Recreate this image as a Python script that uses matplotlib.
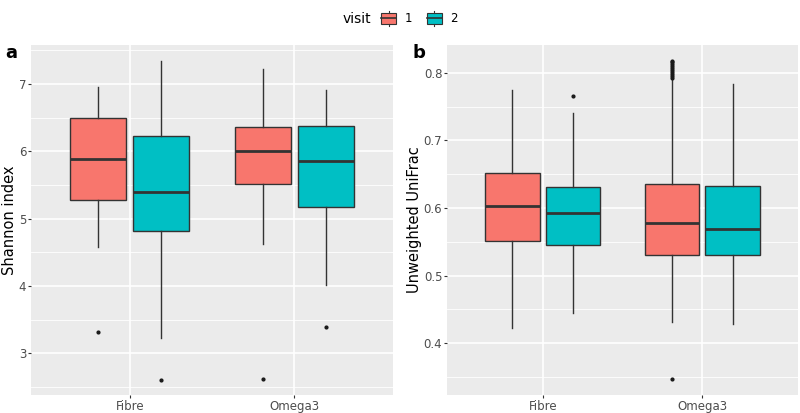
import numpy as np
import matplotlib
matplotlib.use('Agg')
import matplotlib.pyplot as plt
from matplotlib.legend_handler import HandlerBase
from matplotlib.patches import Rectangle
from matplotlib.lines import Line2D

# du lieu doc tu hinh
groups = ['Fibre', 'Omega3']
visits = ['1', '2']
colors = ['#F8766D', '#00BFC4']

# panel a: Shannon index  [whislo, q1, med, q3, whishi], outliers
shannon_stats = {
    ('Fibre', '1'): [4.58, 5.27, 5.88, 6.50, 6.96],
    ('Fibre', '2'): [3.22, 4.81, 5.40, 6.23, 7.34],
    ('Omega3', '1'): [4.62, 5.52, 6.00, 6.36, 7.23],
    ('Omega3', '2'): [4.01, 5.18, 5.85, 6.37, 6.91],
}
shannon_fliers = {
    ('Fibre', '1'): [3.31],
    ('Fibre', '2'): [2.61],
    ('Omega3', '1'): [2.62],
    ('Omega3', '2'): [3.39],
}

# panel b: Unweighted UniFrac
unifrac_stats = {
    ('Fibre', '1'): [0.423, 0.551, 0.603, 0.652, 0.775],
    ('Fibre', '2'): [0.445, 0.545, 0.592, 0.631, 0.740],
    ('Omega3', '1'): [0.431, 0.530, 0.578, 0.635, 0.789],
    ('Omega3', '2'): [0.428, 0.530, 0.569, 0.632, 0.783],
}
unifrac_fliers = {
    ('Fibre', '1'): [],
    ('Fibre', '2'): [0.766],
    ('Omega3', '1'): [0.347, 0.792, 0.795, 0.798, 0.801, 0.804, 0.807,
                      0.810, 0.813, 0.816, 0.818],
    ('Omega3', '2'): [],
}

edge = '#333333'
bg = '#EBEBEB'


def draw_panel(ax, stats, fliers, ylim, yticks, minor, ylabel):
    ax.set_facecolor(bg)
    for s in ax.spines.values():
        s.set_visible(False)
    for m in minor:
        ax.axhline(m, color='white', lw=0.6, zorder=0)
    for t in yticks:
        ax.axhline(t, color='white', lw=1.2, zorder=0)
    for i in range(len(groups)):
        ax.axvline(i + 1, color='white', lw=1.2, zorder=0)
    for i, g in enumerate(groups):
        for j, v in enumerate(visits):
            lo, q1, med, q3, hi = stats[(g, v)]
            st = [dict(whislo=lo, q1=q1, med=med, q3=q3, whishi=hi,
                       fliers=fliers[(g, v)])]
            pos = i + 1 + (j - 0.5) * 0.38
            ax.bxp(st, positions=[pos], widths=0.34, patch_artist=True,
                   showcaps=False, manage_ticks=False,
                   boxprops=dict(facecolor=colors[j], edgecolor=edge, lw=1.0),
                   medianprops=dict(color=edge, lw=2.0),
                   whiskerprops=dict(color=edge, lw=1.0),
                   flierprops=dict(marker='o', markersize=2.0,
                                   markerfacecolor='#1a1a1a',
                                   markeredgecolor='#1a1a1a'))
    ax.set_xlim(0.4, 2.6)
    ax.set_ylim(*ylim)
    ax.set_xticks([1, 2])
    ax.set_xticklabels(groups)
    ax.set_yticks(yticks)
    ax.tick_params(axis='both', colors='#333333', labelcolor='#4D4D4D',
                   labelsize=8.5, length=2.2, width=0.8, pad=1.2)
    ax.set_ylabel(ylabel, fontsize=10.5, color='black', labelpad=1.5)


fig = plt.figure(figsize=(8, 4.13), dpi=100)
ax1 = fig.add_axes([31 / 800, 18 / 413, 362 / 800, 350 / 413])
ax2 = fig.add_axes([447 / 800, 18 / 413, 351 / 800, 350 / 413])

draw_panel(ax1, shannon_stats, shannon_fliers, (2.38, 7.58),
           [3, 4, 5, 6, 7], [2.5, 3.5, 4.5, 5.5, 6.5, 7.5], 'Shannon index')
ax1.set_yticklabels(['3', '4', '5', '6', '7'])
draw_panel(ax2, unifrac_stats, unifrac_fliers, (0.3236, 0.841),
           [0.4, 0.5, 0.6, 0.7, 0.8], [0.35, 0.45, 0.55, 0.65, 0.75],
           'Unweighted UniFrac')

fig.text(5 / 800, 1 - 53 / 413, 'a', fontsize=13, fontweight='bold',
         va='center', ha='left')
fig.text(412 / 800, 1 - 53 / 413, 'b', fontsize=13, fontweight='bold',
         va='center', ha='left')


class BoxKey(HandlerBase):
    def create_artists(self, legend, orig, xd, yd, w, h, fontsize, trans):
        fc = orig.get_facecolor()
        r = Rectangle((xd + 1, yd - 0.15 * h), w - 2, 1.3 * h, facecolor=fc,
                      edgecolor=edge, lw=0.8, transform=trans)
        m = Line2D([xd + 1, xd + w - 1], [yd + h / 2, yd + h / 2],
                   color=edge, lw=1.2, transform=trans)
        w1 = Line2D([xd + w / 2, xd + w / 2], [yd - 0.45 * h, yd - 0.15 * h],
                    color=edge, lw=0.8, transform=trans)
        w2 = Line2D([xd + w / 2, xd + w / 2], [yd + 1.15 * h, yd + 1.45 * h],
                    color=edge, lw=0.8, transform=trans)
        return [r, m, w1, w2]


handles = [Rectangle((0, 0), 1, 1, facecolor=c) for c in colors]
fig.text(371 / 800, 1 - 19 / 413, 'visit', fontsize=10, va='center',
         ha='right')
leg = fig.legend(handles, visits, loc='center left',
                 bbox_to_anchor=(373 / 800, 1 - 19 / 413), ncol=2,
                 frameon=False, fontsize=8.5,
                 handler_map={Rectangle: BoxKey()},
                 handlelength=1.5, handleheight=0.7, handletextpad=0.6,
                 columnspacing=1.1, borderpad=0.1)

plt.savefig('out.png', dpi=100)
